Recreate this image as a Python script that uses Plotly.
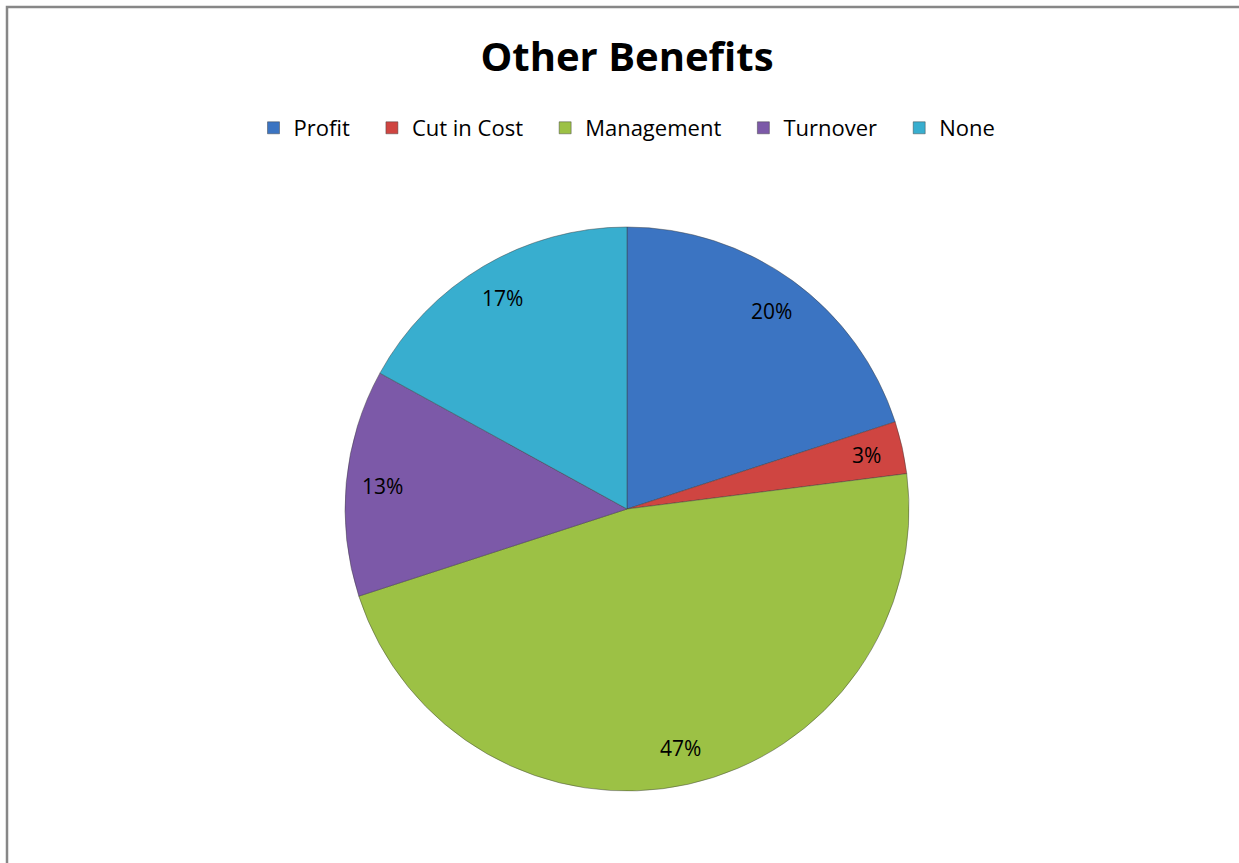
import math
import plotly.graph_objects as go

# Survey breakdown of other benefits (percent of responses)
categories = ["Profit", "Cut in Cost", "Management", "Turnover", "None"]
shares = [20, 3, 47, 13, 17]
slice_colors = ["#3B74C2", "#CF4541", "#9CC145", "#7C59A8", "#38AECF"]

W, H = 1239, 863
# pie placement in pixels (centre and radius)
cx, cy, r = 627, 509, 282
FONT = "Open Sans, Lato, sans-serif"

dom_x = [(cx - r) / W, (cx + r) / W]
dom_y = [(H - (cy + r)) / H, (H - (cy - r)) / H]

# legend entries get a little trailing room so they spread out like an Excel legend
pad = "\u00a0" * 3
legend_names = [c + pad if i < len(categories) - 1 else c for i, c in enumerate(categories)]

fig = go.Figure(
    go.Pie(
        labels=legend_names,
        values=shares,
        sort=False,
        direction="clockwise",
        rotation=0,
        textinfo="none",
        hoverinfo="label+percent",
        marker=dict(colors=slice_colors, line=dict(color="rgba(60,60,60,0.45)", width=1)),
        domain=dict(x=dom_x, y=dom_y),
    )
)

# percentage labels placed near the rim of each slice
total = sum(shares)
annotations = []
cum = 0.0
for v in shares:
    mid = (cum + v / 2) / total * 2 * math.pi
    cum += v
    px = cx + 0.87 * r * math.sin(mid)
    py = cy - 0.87 * r * math.cos(mid)
    annotations.append(
        dict(
            x=px / W, y=(H - py) / H, xref="paper", yref="paper",
            text=f"{round(v / total * 100)}%", showarrow=False,
            font=dict(family=FONT, size=21, color="#000000"),
            xanchor="center", yanchor="middle",
        )
    )

fig.update_layout(
    width=W,
    height=H,
    margin=dict(l=0, r=0, t=0, b=0),
    paper_bgcolor="white",
    plot_bgcolor="white",
    title=dict(
        text="<b>Other Benefits</b>",
        x=cx / W, xanchor="center",
        y=(H - 57) / H, yanchor="middle",
        font=dict(family=FONT, size=40, color="#000000"),
    ),
    legend=dict(
        orientation="h",
        x=cx / W, xanchor="center",
        y=(H - 128) / H, yanchor="middle",
        font=dict(family=FONT, size=22, color="#000000"),
        itemwidth=30,
        traceorder="normal",
    ),
    annotations=annotations,
    shapes=[
        dict(
            type="rect", xref="paper", yref="paper",
            x0=7 / W, x1=1.02, y0=-0.02, y1=(H - 7) / H,
            line=dict(color="#878787", width=2.5),
            fillcolor="rgba(0,0,0,0)",
        )
    ],
)

fig.write_html("out.html")
